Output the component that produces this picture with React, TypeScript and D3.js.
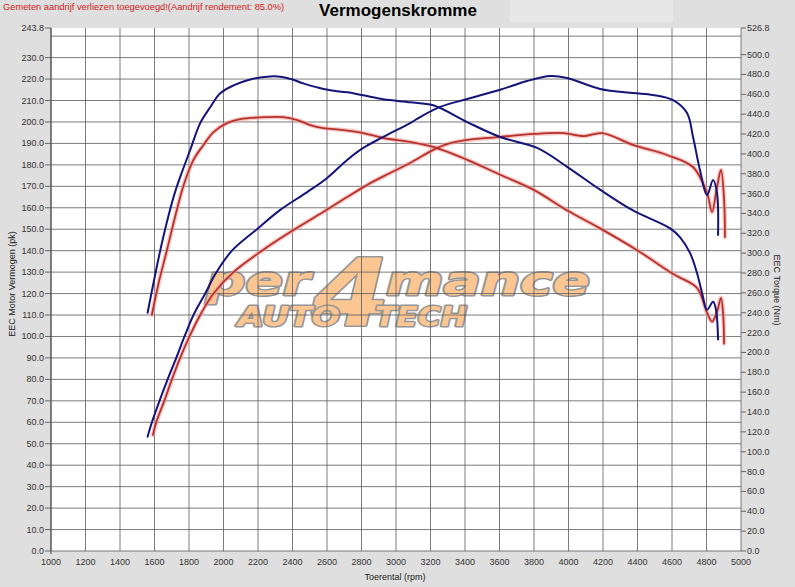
import React from 'react';
import * as d3 from 'd3';

// power curves (left axis, pk)
const powerBlueRpm = [1560, 1585, 1629, 1676, 1726, 1774, 1826, 1894, 1952, 2049, 2194, 2329, 2485, 2601, 2717, 2810, 2926, 3082, 3140, 3256, 3413, 3604, 3760, 3894, 3992, 4183, 4374, 4490, 4606, 4687, 4722, 4762, 4803, 4838, 4861, 4867];
const powerBlue = [53.3, 60, 70, 80, 90, 100, 110, 120, 129, 140, 150, 159, 167.3, 173.9, 182.3, 187.9, 193.0, 199.5, 202.3, 207.0, 210.7, 215.0, 219.1, 221.4, 220.5, 215.4, 213.5, 212.6, 210.2, 204.2, 193.0, 177.6, 165.9, 172.9, 166.9, 147.3];
const powerRedRpm = [1591, 1610, 1657, 1701, 1749, 1803, 1865, 1942, 2058, 2223, 2387, 2578, 2717, 2851, 2966, 3082, 3216, 3300, 3413, 3604, 3796, 3970, 4086, 4196, 4374, 4571, 4722, 4803, 4832, 4861, 4884, 4902, 4907];
const powerRed = [54.1, 60, 70, 80, 90, 100, 110, 120, 130, 140, 148.7, 158.0, 165.0, 171.5, 176.2, 180.9, 187.0, 189.8, 191.6, 193.0, 194.4, 194.8, 193.4, 194.8, 189.3, 184.6, 179.0, 166.9, 158.0, 169.7, 177.6, 163.6, 146.4];

// torque curves (right axis, Nm)
const torqueBlueRpm = [1560, 1600, 1640, 1680, 1720, 1760, 1807, 1865, 1923, 1981, 2058, 2155, 2271, 2340, 2400, 2462, 2543, 2619, 2717, 2810, 2926, 3082, 3216, 3413, 3604, 3818, 3992, 4183, 4374, 4589, 4647, 4705, 4745, 4774, 4803, 4838, 4855, 4867];
const torqueBlue = [240, 275, 308, 337, 362, 382, 404, 431, 447, 461, 469, 475, 478, 477.5, 475, 471, 467, 464, 462, 459, 455, 452, 449, 432, 417, 406, 387, 364, 343, 325, 316, 300, 280, 260, 243, 251, 243, 213];
const torqueRedRpm = [1585, 1624, 1672, 1720, 1768, 1826, 1884, 1942, 2020, 2097, 2252, 2346, 2428, 2503, 2578, 2694, 2810, 2926, 3082, 3216, 3413, 3604, 3796, 3993, 4183, 4398, 4607, 4745, 4803, 4832, 4861, 4884, 4896, 4902];
const torqueRed = [238, 270, 303, 337, 368, 394, 409, 422, 431, 435, 437, 437, 434, 429, 426, 424, 421, 416, 412, 407, 394, 379, 364, 343, 325, 303, 279, 265, 240, 231, 241, 255, 240, 209];

const rpmTicks = d3.range(1000, 5001, 200);
const powerGrid = d3.range(0, 241, 10);
const powerLabels = [...d3.range(0, 231, 10), 243.8];
const torqueLabels = [...d3.range(0, 501, 20), 526.8];

const W = 795;
const H = 587;
const left = 51;
const right = 741;
const top = 28;
const bottom = 551;

const font = '"Liberation Sans", Arial, sans-serif';

export default function App() {
  const x = d3.scaleLinear().domain([1000, 5000]).range([left, right]);
  const yP = d3.scaleLinear().domain([0, 243.8]).range([bottom, top]);
  const yT = d3.scaleLinear().domain([0, 526.8]).range([bottom, top]);

  const curve = d3.curveCatmullRom.alpha(0.5);
  const lineP = d3.line<[number, number]>().x(d => x(d[0])).y(d => yP(d[1])).curve(curve);
  const lineT = d3.line<[number, number]>().x(d => x(d[0])).y(d => yT(d[1])).curve(curve);

  const pb = lineP(powerBlueRpm.map((r, i) => [r, powerBlue[i]])) || '';
  const pr = lineP(powerRedRpm.map((r, i) => [r, powerRed[i]])) || '';
  const tb = lineT(torqueBlueRpm.map((r, i) => [r, torqueBlue[i]])) || '';
  const tr = lineT(torqueRedRpm.map((r, i) => [r, torqueRed[i]])) || '';

  const logoFill = '#fbc692';
  const logoStroke = '#969696';

  return (
    <svg width={W} height={H} style={{ position: 'absolute', left: 0, top: 0 }} fontFamily={font}>
      <rect x={0} y={0} width={W} height={H} fill="#dfdfdf" />
      <rect x={510} y={0} width={163} height={22} fill="#e7e7e7" />
      <text x={3} y={10} fontSize={9.3} fill="#d02020">Gemeten aandrijf verliezen toegevoegd!(Aandrijf rendement: 85.0%)</text>
      <text x={398} y={16} fontSize={17} fontWeight="bold" textAnchor="middle" fill="#000">Vermogenskromme</text>

      <rect x={left} y={top} width={right - left} height={bottom - top} fill="#fff" />

      {/* watermark */}
      <g fontFamily='"DejaVu Sans", sans-serif' fontWeight="bold" fontStyle="italic" fill={logoFill} stroke={logoStroke} strokeWidth={3} style={{ paintOrder: 'stroke' }} strokeLinejoin="round">
        <text x={206} y={295} fontSize={40} textLength={104} lengthAdjust="spacingAndGlyphs">per</text>
        <text x={312} y={325} fontSize={92} textLength={78} lengthAdjust="spacingAndGlyphs">4</text>
        <text x={386} y={295} fontSize={40} textLength={204} lengthAdjust="spacingAndGlyphs">mance</text>
        <text x={238} y={326} fontSize={26} textLength={102} lengthAdjust="spacingAndGlyphs">AUTO</text>
        <text x={375} y={326} fontSize={26} textLength={92} lengthAdjust="spacingAndGlyphs">TECH</text>
      </g>

      {/* grid */}
      <g stroke="#5a5a5a" strokeWidth={0.8}>
        {rpmTicks.map(r => (
          <line key={'v' + r} x1={x(r)} x2={x(r)} y1={top} y2={bottom} />
        ))}
        {powerGrid.map(v => (
          <line key={'h' + v} x1={left} x2={right} y1={yP(v)} y2={yP(v)} />
        ))}
      </g>
      <line x1={left} x2={left} y1={top} y2={bottom + 3} stroke="#444" />

      {/* left axis */}
      <g fontSize={9} fill="#333">
        {powerLabels.map(v => (
          <g key={'pl' + v}>
            <line x1={45} x2={left} y1={yP(v)} y2={yP(v)} stroke="#666" />
            <text x={44} y={yP(v) + 3} textAnchor="end">{v.toFixed(1)}</text>
          </g>
        ))}
      </g>
      {/* right axis */}
      <g fontSize={9} fill="#333">
        {torqueLabels.map(v => (
          <g key={'tl' + v}>
            <line x1={right} x2={right + 5} y1={yT(v)} y2={yT(v)} stroke="#666" />
            <text x={right + 6} y={yT(v) + 3}>{v.toFixed(1)}</text>
          </g>
        ))}
      </g>
      {/* bottom axis */}
      <g fontSize={9} fill="#333" textAnchor="middle">
        {rpmTicks.map(r => (
          <text key={'xl' + r} x={x(r)} y={565}>{r}</text>
        ))}
      </g>

      <text x={395} y={580} fontSize={9} textAnchor="middle" fill="#222">Toerental (rpm)</text>
      <text transform="translate(15,284) rotate(-90)" fontSize={9} textAnchor="middle" fill="#222">EEC Motor Vermogen (pk)</text>
      <text transform="translate(774,290) rotate(90)" fontSize={9} textAnchor="middle" fill="#222">EEC Torque (Nm)</text>

      {/* curves */}
      <g fill="none" strokeLinejoin="round" strokeLinecap="round">
        <path d={pr} stroke="#f0a4a4" strokeWidth={4.5} opacity={0.6} />
        <path d={tr} stroke="#f0a4a4" strokeWidth={4.5} opacity={0.6} />
        <path d={pr} stroke="#b8302a" strokeWidth={1.8} />
        <path d={tr} stroke="#b8302a" strokeWidth={1.8} />
        <path d={pb} stroke="#14147a" strokeWidth={2} />
        <path d={tb} stroke="#14147a" strokeWidth={2} />
      </g>
    </svg>
  );
}
